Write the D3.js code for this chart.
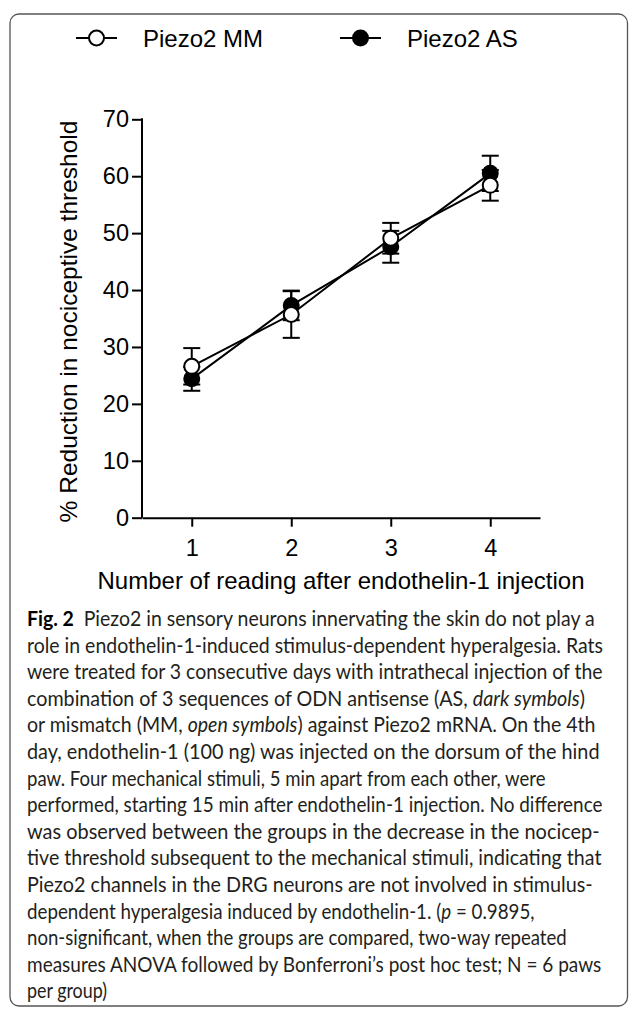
<!DOCTYPE html>
<html>
<head>
<meta charset="utf-8">
<script src="https://cdn.jsdelivr.net/npm/d3@7"></script>
<style>
  html, body { margin: 0; padding: 0; background: #fff; }
  svg { display: block; }
  .tick text { font-family: "Liberation Sans", Arial, sans-serif; }
</style>
</head>
<body>
<div id="chart"></div>
<script>
// values
const readings = [1, 2, 3, 4];
const mmMean = [26.6, 35.7, 49.1, 58.4];
const mmErr = [3.2, 4.1, 2.7, 2.7];
const asMean = [24.4, 37.3, 47.6, 60.5];
const asErr = [2.1, 2.6, 2.8, 3.1];
const yTicks = [0, 10, 20, 30, 40, 50, 60, 70];
const seriesNames = ['Piezo2 MM', 'Piezo2 AS'];

const width = 629, height = 1009;

const svg = d3.select('#chart')
  .append('svg')
  .attr('width', width)
  .attr('height', height);

// frame round the figure
svg.append('rect')
  .attr('x', 10).attr('y', 14)
  .attr('width', 617.5).attr('height', 992)
  .attr('rx', 9)
  .attr('fill', 'none')
  .attr('stroke', '#555')
  .attr('stroke-width', 1.3);

const x = d3.scaleLinear().domain([0.5, 4.5]).range([142, 540]);
const y = d3.scaleLinear().domain([0, 70]).range([517.7, 119.3]);

const xAxis = d3.axisBottom(x).tickValues(readings).tickFormat(d3.format('d'))
  .tickSize(9).tickPadding(13).tickSizeOuter(0);
const yAxis = d3.axisLeft(y).tickValues(yTicks).tickSize(10).tickPadding(3).tickSizeOuter(0);

const gx = svg.append('g')
  .attr('transform', `translate(0,${y(0)})`)
  .call(xAxis);
const gy = svg.append('g')
  .attr('transform', `translate(${x(0.5)},0)`)
  .call(yAxis);

[gx, gy].forEach(g => {
  g.selectAll('path, line').attr('stroke', '#000').attr('stroke-width', 2);
  g.selectAll('text').attr('fill', '#000').style('font-size', '23.5px');
});
gy.select('.domain').attr('d', `M0,${y(70) - 1}V${y(0)}`);

// axis titles
svg.append('text')
  .attr('transform', `translate(77,${(y(0) + y(70)) / 2 + 3}) rotate(-90)`)
  .attr('text-anchor', 'middle')
  .style('font-family', '"Liberation Sans", Arial, sans-serif')
  .style('font-size', '24.5px')
  .text('% Reduction in nociceptive threshold');

svg.append('text')
  .attr('x', (x(0.5) + x(4.5)) / 2)
  .attr('y', 589)
  .attr('text-anchor', 'middle')
  .style('font-family', '"Liberation Sans", Arial, sans-serif')
  .style('font-size', '24px')
  .text('Number of reading after endothelin-1 injection');

// series
const series = [
  { name: seriesNames[1], mean: asMean, err: asErr, fill: '#000' },
  { name: seriesNames[0], mean: mmMean, err: mmErr, fill: '#fff' }
];

const capHalf = 8.5;
series.forEach(s => {
  const eb = svg.append('g');
  readings.forEach((r, i) => {
    const cx = x(r);
    const top = y(s.mean[i] + s.err[i]);
    const bot = y(s.mean[i] - s.err[i]);
    eb.append('line').attr('x1', cx).attr('x2', cx).attr('y1', top).attr('y2', bot);
    eb.append('line').attr('x1', cx - capHalf).attr('x2', cx + capHalf).attr('y1', top).attr('y2', top);
    eb.append('line').attr('x1', cx - capHalf).attr('x2', cx + capHalf).attr('y1', bot).attr('y2', bot);
  });
  eb.selectAll('line').attr('stroke', '#000').attr('stroke-width', 2);
});

const line = d3.line().x((d, i) => x(readings[i])).y(d => y(d));
series.forEach(s => {
  svg.append('path')
    .datum(s.mean)
    .attr('d', line)
    .attr('fill', 'none')
    .attr('stroke', '#000')
    .attr('stroke-width', 2);
});

series.forEach(s => {
  svg.append('g')
    .selectAll('circle')
    .data(s.mean)
    .enter()
    .append('circle')
    .attr('cx', (d, i) => x(readings[i]))
    .attr('cy', d => y(d))
    .attr('r', 7.5)
    .attr('fill', s.fill)
    .attr('stroke', '#000')
    .attr('stroke-width', 2);
});

// legend
const legend = [
  { name: seriesNames[0], fill: '#fff', x0: 76 },
  { name: seriesNames[1], fill: '#000', x0: 340 }
];
legend.forEach(l => {
  const g = svg.append('g').attr('transform', `translate(${l.x0},38)`);
  g.append('line').attr('x1', 0).attr('x2', 41).attr('y1', 0).attr('y2', 0)
    .attr('stroke', '#000').attr('stroke-width', 2);
  g.append('circle').attr('cx', 20.5).attr('cy', 0).attr('r', 7.5)
    .attr('fill', l.fill).attr('stroke', '#000').attr('stroke-width', 2);
  g.append('text').attr('x', 67).attr('y', 8.5)
    .style('font-family', '"Liberation Sans", Arial, sans-serif')
    .style('font-size', '24px')
    .text(l.name);
});

// caption, one entry per printed line: right edge, then [text, style] pieces
const caption = [
  [595, [['Fig. 2', 'b'], ['\u2002Piezo2 in sensory neurons innervating the skin do not play a', '']]],
  [603, [['role in endothelin-1-induced stimulus-dependent hyperalgesia. Rats', '']]],
  [603, [['were treated for 3 consecutive days with intrathecal injection of the', '']]],
  [585, [['combination of 3 sequences of ODN antisense (AS, ', ''], ['dark symbols', 'i'], [')', '']]],
  [596, [['or mismatch (MM, ', ''], ['open symbols', 'i'], [') against Piezo2 mRNA. On the 4th', '']]],
  [600, [['day, endothelin-1 (100 ng) was injected on the dorsum of the hind', '']]],
  [546, [['paw. Four mechanical stimuli, 5 min apart from each other, were', '']]],
  [603, [['performed, starting 15 min after endothelin-1 injection. No difference', '']]],
  [600, [['was observed between the groups in the decrease in the nocicep-', '']]],
  [602, [['tive threshold subsequent to the mechanical stimuli, indicating that', '']]],
  [593, [['Piezo2 channels in the DRG neurons are not involved in stimulus-', '']]],
  [535, [['dependent hyperalgesia induced by endothelin-1. (', ''], ['p', 'i'], [' = 0.9895,', '']]],
  [567, [['non-significant, when the groups are compared, two-way repeated', '']]],
  [602, [['measures ANOVA followed by Bonferroni\u2019s post hoc test; N = 6 paws', '']]],
  [107, [['per group)', '']]]
];

const capX = 27;
const cap = svg.append('g')
  .style('font-family', 'Lato, "Open Sans", sans-serif')
  .style('font-size', '21px')
  .attr('fill', '#231f20');

// the print face is narrower than Lato, so each line is squeezed to its printed width
caption.forEach((row, i) => {
  const g = cap.append('g');
  const t = g.append('text').attr('x', 0).attr('y', 0);
  row[1].forEach(p => {
    const ts = t.append('tspan').text(p[0]);
    if (p[1] === 'b') ts.style('font-weight', 'bold').attr('fill', '#000');
    if (p[1] === 'i') ts.style('font-style', 'italic');
  });
  const sx = (row[0] - capX) / t.node().getComputedTextLength();
  g.attr('transform', `translate(${capX},${626 + i * 26.6}) scale(${sx},1)`);
});
</script>
</body>
</html>
